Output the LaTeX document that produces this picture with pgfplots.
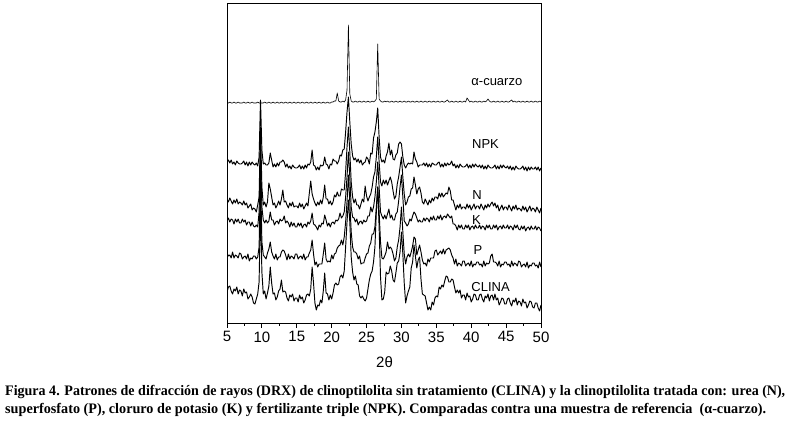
\documentclass[border=0pt]{standalone}
\usepackage{pgfplots}
\pgfplotsset{compat=1.18}
\usepackage{pgfplotstable}
\usepackage{graphicx}
\usepackage{fontspec}
\setmainfont{Liberation Sans}
\newfontfamily\capfont{Liberation Serif}

\pgfplotstableread{
x q a b k p c
5.0 219 160 123 101 69 30
5.2 219 162 120 104 66 35
5.4 220 159 124 100 67 36
5.6 219 162 121 103 64 31
5.8 219 158 118 102 70 28
6.0 220 160 122 98 64 33
6.2 219 157 119 103 67 31
6.4 219 161 123 100 66 35
6.6 220 159 118 103 64 28
6.8 219 158 120 99 69 32
7.0 219 158 119 99 68 31
7.2 219 159 117 103 63 26
7.4 220 161 121 100 65 33
7.6 219 157 117 102 66 29
7.8 219 160 119 97 63 30
8.0 220 156 114 100 68 23
8.2 219 160 116 100 61 25
8.4 219 157 118 96 64 28
8.6 220 160 112 100 63 25
8.8 219 158 114 96 66 19
9.0 219 157 113 95 66 18
9.2 219 159 110 97 63 23
9.4 220 156 117 95 65 28
9.6 219 165 125 110 75 40
9.8 219 222 195 170 150 115
10.0 219 172 135 115 80 50
10.2 219 158 117 102 67 28
10.4 220 159 120 99 65 31
10.6 219 157 115 102 63 23
10.8 219 157 120 99 69 29
11.0 220 159 139 101 73 36
11.2 219 169 133 110 80 55
11.4 219 162 125 102 70 39
11.6 220 155 117 102 66 28
11.8 219 158 119 97 63 29
12.0 219 155 114 100 68 22
12.2 220 159 117 101 62 25
12.4 219 156 121 98 65 31
12.6 219 160 117 103 65 33
12.8 220 160 123 101 70 42
13.0 219 162 132 102 72 30
13.2 219 160 120 106 71 31
13.4 220 155 121 99 67 30
13.6 219 158 117 101 62 24
13.8 219 154 114 99 68 21
14.0 220 156 119 95 63 27
14.2 219 153 116 100 66 25
14.4 219 157 120 96 65 28
14.6 220 155 115 99 63 21
14.8 219 154 116 95 68 24
15.0 219 154 116 95 68 24
15.2 220 155 114 99 63 20
15.4 219 157 119 96 65 27
15.6 219 153 115 99 66 23
15.8 220 156 118 94 63 25
16.0 219 153 113 97 68 19
16.2 219 157 116 98 62 22
16.4 220 154 119 95 65 27
16.6 219 158 116 100 65 28
16.8 219 157 129 98 69 26
17.0 220 160 141 101 72 33
17.2 219 172 128 109 82 55
17.4 219 157 123 98 68 39
17.6 220 156 119 97 57 19
17.8 219 152 116 95 60 12
18.0 219 155 120 92 55 17
18.2 220 152 117 97 58 16
18.4 219 157 122 95 58 22
18.6 219 156 118 99 58 19
18.8 220 157 125 98 68 31
19.0 219 165 137 107 79 49
19.2 219 158 123 102 63 29
19.4 220 157 123 96 60 28
19.6 219 153 118 99 61 22
19.8 219 158 121 95 60 27
20.0 220 157 117 99 67 23
20.2 220 163 120 100 63 29
20.4 221 161 127 98 68 37
20.6 221 161 125 102 69 39
20.8 229 158 130 101 74 37
21.0 221 161 126 103 76 38
21.2 220 167 126 109 77 45
21.4 220 166 133 104 82 47
21.6 221 172 132 106 77 44
21.8 220 173 132 110 85 51
22.0 222 190 150 125 100 75
22.2 232 210 175 145 120 100
22.4 297 225 195 170 147 122
22.6 228 200 170 145 120 100
22.8 221 178 140 115 90 65
23.0 220 166 125 105 75 50
23.2 220 162 119 104 70 42
23.4 221 164 123 100 70 46
23.6 220 160 117 103 68 38
23.8 220 163 117 97 63 37
24.0 221 159 113 100 66 26
24.2 220 162 118 101 58 24
24.4 220 157 123 98 59 26
24.6 221 159 120 102 59 23
24.8 220 160 136 100 64 21
25.0 220 165 126 101 68 24
25.2 221 163 121 106 69 33
25.4 220 158 125 106 76 42
25.6 220 169 128 115 79 48
25.8 221 168 135 110 88 51
26.0 220 184 145 115 88 60
26.2 221 190 150 125 95 75
26.4 223 200 165 140 115 110
26.6 278 214 185 160 135 135
26.8 223 185 160 135 110 95
27.0 221 165 140 110 80 45
27.2 220 160 136 106 64 22
27.4 220 162 142 103 63 23
27.6 221 159 138 107 66 30
27.8 220 166 142 103 70 50
28.0 221 170 137 108 80 48
28.2 220 179 141 113 73 49
28.4 220 167 145 104 75 56
28.6 221 172 140 107 73 51
28.8 220 163 131 102 68 42
29.0 220 162 123 102 61 40
29.2 221 167 126 108 64 49
29.4 220 169 138 110 75 59
29.6 220 178 145 121 82 61
29.8 221 180 155 135 95 70
30.0 220 178 165 147 115 90
30.2 220 165 145 125 90 68
30.4 221 157 128 101 68 39
30.6 220 154 117 99 58 19
30.8 220 157 120 96 65 26
31.0 221 159 125 98 68 31
31.2 220 158 126 103 65 35
31.4 220 159 133 101 70 54
31.6 221 158 134 106 76 60
31.8 220 170 145 110 85 77
32.0 220 163 137 108 83 66
32.2 221 160 128 104 67 54
32.4 220 155 133 100 72 62
32.6 220 157 135 102 77 65
32.8 221 157 129 100 70 43
33.0 220 157 120 100 62 28
33.2 220 159 118 104 58 27
33.4 221 156 123 101 59 26
33.6 220 159 120 104 56 19
33.8 220 155 117 103 63 12
34.0 221 158 122 100 60 15
34.2 220 155 119 105 64 12
34.4 220 159 124 102 64 20
34.6 221 158 121 106 64 17
34.8 220 157 125 102 71 24
35.0 220 157 125 102 72 26
35.2 221 159 123 106 67 25
35.4 220 160 129 103 69 35
35.6 220 155 125 107 71 33
35.8 221 158 129 102 68 37
36.0 220 155 125 105 73 35
36.2 220 159 127 106 68 41
36.4 221 156 129 104 72 46
36.6 222 159 128 108 73 45
36.8 220 157 135 106 74 40
37.0 220 158 131 104 72 40
37.2 221 161 122 106 67 43
37.4 220 156 122 98 64 42
37.6 220 158 117 98 58 35
37.8 221 154 112 96 63 29
38.0 220 157 117 92 56 32
38.2 220 154 114 97 59 29
38.4 221 158 118 94 58 32
38.6 220 156 113 97 56 24
38.8 220 155 115 93 61 27
39.0 221 155 115 93 61 27
39.2 220 156 113 97 56 22
39.4 224 158 118 94 58 29
39.6 222 154 114 97 59 25
39.8 220 157 117 92 56 26
40.0 221 154 112 95 61 20
40.2 220 158 115 96 55 23
40.4 220 155 118 93 58 28
40.6 221 158 113 97 57 27
40.8 220 156 116 94 60 22
41.0 220 155 116 94 60 22
41.2 221 157 113 97 57 27
41.4 220 154 118 93 58 28
41.6 220 157 115 96 55 23
41.8 221 153 112 95 61 20
42.0 220 156 117 92 56 26
42.2 221 153 114 97 59 24
42.4 223 157 118 94 58 28
42.6 221 155 115 97 59 21
42.8 220 154 118 93 66 26
43.0 220 154 120 93 68 27
43.2 221 155 116 97 60 22
43.4 220 157 119 94 60 28
43.6 220 153 114 97 59 22
43.8 221 156 117 92 56 24
44.0 220 153 111 95 61 17
44.2 220 157 114 96 55 20
44.4 221 154 117 93 58 24
44.6 220 157 112 97 57 23
44.8 220 155 115 94 60 18
45.0 221 154 115 94 60 18
45.2 220 156 112 97 57 23
45.4 220 153 117 93 58 24
45.6 221 156 114 96 55 19
45.8 222 152 111 95 61 16
46.0 220 155 116 92 56 22
46.2 221 152 113 97 59 20
46.4 220 156 117 94 58 24
46.6 220 154 112 97 56 17
46.8 221 153 114 93 61 21
47.0 220 153 113 92 60 20
47.2 220 154 111 96 55 16
47.4 221 156 116 93 57 23
47.6 220 152 112 96 58 19
47.8 220 155 115 91 55 20
48.0 221 151 110 94 60 14
48.2 220 155 113 95 54 17
48.4 220 152 116 92 57 21
48.6 221 155 111 96 56 20
48.8 220 153 114 93 59 15
49.0 220 153 113 93 59 14
49.2 221 155 110 96 56 19
49.4 220 152 115 92 57 19
49.6 220 155 112 95 54 14
49.8 221 151 109 94 60 11
50.0 220 154 114 91 55 17
}\xrd

\begin{document}
\begin{tikzpicture}
\useasboundingbox (0pt,0pt) rectangle (787pt,423pt);
\begin{axis}[
  at={(227pt,100pt)}, anchor=south west,
  width=314pt, height=319.5pt, scale only axis,
  xmin=5, xmax=50, ymin=-1, ymax=318.5,
  xtick={5,10,...,50}, minor x tick num=1,
  ytick=\empty, xtick pos=left, tick align=outside,
  major tick length=5pt, minor tick length=3pt,
  axis line style={line width=0.8pt},
  every tick/.style={black, line width=0.8pt},
  ticklabel style={font=\fontsize{15}{18}\selectfont},
  /pgf/number format/assume math mode=true,
  xrd/.style={black, no marks, line width=0.95pt, line join=round}
]
\addplot[xrd, line width=0.6pt] table[x=x,y=q] {\xrd};
\addplot[xrd] table[x=x,y=a] {\xrd};
\addplot[xrd] table[x=x,y=b] {\xrd};
\addplot[xrd] table[x=x,y=k] {\xrd};
\addplot[xrd] table[x=x,y=p] {\xrd};
\addplot[xrd] table[x=x,y=c] {\xrd};
\begin{scope}[every node/.style={anchor=base west, inner sep=0pt, font=\fontsize{13}{15}\selectfont}]
\node at (axis cs:40.0,236) {α-cuarzo};
\node at (axis cs:40.1,173) {NPK};
\node at (axis cs:40.15,122) {N};
\node at (axis cs:40.1,97) {K};
\node at (axis cs:40.3,67) {P};
\node at (axis cs:40.0,30.3) {CLINA};
\end{scope}
\end{axis}
\node[anchor=base, inner sep=0pt, font=\fontsize{15}{18}\selectfont] at (384.5pt,55pt) {2θ};
\node[anchor=base west, inner sep=0pt] at (5pt,28pt) {\resizebox{780pt}{\height}{\capfont\bfseries\fontsize{14.5}{17}\selectfont Figura 4. Patrones de difracción de rayos (DRX) de clinoptilolita sin tratamiento (CLINA) y la clinoptilolita tratada con: urea (N),}};
\node[anchor=base west, inner sep=0pt] at (5pt,10pt) {\resizebox{761pt}{\height}{\capfont\bfseries\fontsize{14.5}{17}\selectfont superfosfato (P), cloruro de potasio (K) y fertilizante triple (NPK). Comparadas contra una muestra de referencia\ \ (α-cuarzo).}};
\end{tikzpicture}
\end{document}
